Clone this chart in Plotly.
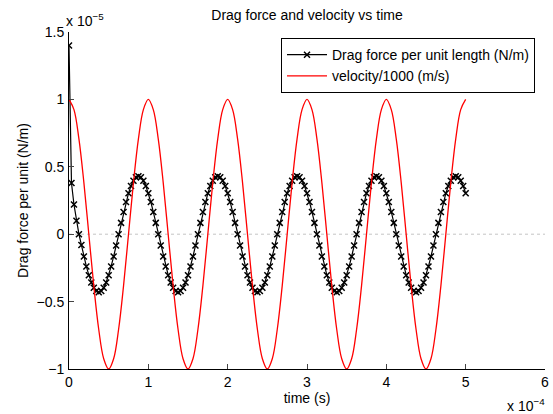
import numpy as np
import plotly.graph_objects as go

# time in units of 1e-4 s; forces / velocities in units of 1e-5
drag_force_e5 = [
    1.40, 0.38, 0.22, 0.10, 0.00, -0.08, -0.165, -0.239, -0.304, -0.358, -0.397, -0.422, -0.43, -0.422, -0.397, -0.358,
    -0.304, -0.239, -0.165, -0.084, 0.0, 0.084, 0.165, 0.239, 0.304, 0.358, 0.397, 0.422, 0.43, 0.422, 0.397, 0.358,
    0.304, 0.239, 0.165, 0.084, 0.0, -0.084, -0.165, -0.239, -0.304, -0.358, -0.397, -0.422, -0.43, -0.422, -0.397, -0.358,
    -0.304, -0.239, -0.165, -0.084, 0.0, 0.084, 0.165, 0.239, 0.304, 0.358, 0.397, 0.422, 0.43, 0.422, 0.397, 0.358,
    0.304, 0.239, 0.165, 0.084, 0.0, -0.084, -0.165, -0.239, -0.304, -0.358, -0.397, -0.422, -0.43, -0.422, -0.397, -0.358,
    -0.304, -0.239, -0.165, -0.084, 0.0, 0.084, 0.165, 0.239, 0.304, 0.358, 0.397, 0.422, 0.43, 0.422, 0.397, 0.358,
    0.304, 0.239, 0.165, 0.084, 0.0, -0.084, -0.165, -0.239, -0.304, -0.358, -0.397, -0.422, -0.43, -0.422, -0.397, -0.358,
    -0.304, -0.239, -0.165, -0.084, 0.0, 0.084, 0.165, 0.239, 0.304, 0.358, 0.397, 0.422, 0.43, 0.422, 0.397, 0.358,
    0.304, 0.239, 0.165, 0.084, 0.0, -0.084, -0.165, -0.239, -0.304, -0.358, -0.397, -0.422, -0.43, -0.422, -0.397, -0.358,
    -0.304, -0.239, -0.165, -0.084, 0.0, 0.084, 0.165, 0.239, 0.304, 0.358, 0.397, 0.422, 0.43, 0.422, 0.397, 0.358,
    0.304,
]
time_drag_e4 = np.linspace(0.0, 5.0, len(drag_force_e5))

velocity_e5 = [
    1.0, 0.924, 0.707, 0.383, 0.0, -0.383, -0.707, -0.924, -1.0, -0.924, -0.707, -0.383, 0.0, 0.383, 0.707, 0.924,
    1.0, 0.924, 0.707, 0.383, 0.0, -0.383, -0.707, -0.924, -1.0, -0.924, -0.707, -0.383, 0.0, 0.383, 0.707, 0.924,
    1.0, 0.924, 0.707, 0.383, 0.0, -0.383, -0.707, -0.924, -1.0, -0.924, -0.707, -0.383, 0.0, 0.383, 0.707, 0.924,
    1.0, 0.924, 0.707, 0.383, 0.0, -0.383, -0.707, -0.924, -1.0, -0.924, -0.707, -0.383, 0.0, 0.383, 0.707, 0.924,
    1.0, 0.924, 0.707, 0.383, 0.0, -0.383, -0.707, -0.924, -1.0, -0.924, -0.707, -0.383, 0.0, 0.383, 0.707, 0.924,
    1.0,
]
time_vel_e4 = np.linspace(0.0, 5.0, len(velocity_e5))

x_ticks = [0, 1, 2, 3, 4, 5, 6]
y_ticks = [-1, -0.5, 0, 0.5, 1, 1.5]
y_tick_labels = ["\u22121", "\u22120.5", "0", "0.5", "1", "1.5"]

FONT = "Liberation Sans, Arial, Helvetica, sans-serif"
FS = 14

fig = go.Figure()
fig.add_trace(go.Scatter(
    x=time_drag_e4, y=drag_force_e5, mode="lines+markers",
    name="Drag force per unit length (N/m)",
    line=dict(color="black", width=1.2),
    marker=dict(symbol="x-thin-open", size=6, color="black", line=dict(color="black", width=1.5)),
))
fig.add_trace(go.Scatter(
    x=time_vel_e4, y=velocity_e5, mode="lines",
    name="velocity/1000 (m/s)",
    line=dict(color="red", width=1.3, shape="spline"),
))

fig.add_shape(type="line", xref="x", yref="y", x0=0, x1=6, y0=0, y1=0,
              line=dict(color="#c4c4c4", width=1, dash="dot"), layer="below")

fig.update_layout(
    width=553, height=414,
    margin=dict(l=69, r=8, t=32, b=45, autoexpand=False),
    paper_bgcolor="white", plot_bgcolor="white",
    font=dict(family=FONT, size=FS, color="black"),
    title=dict(text="Drag force and velocity vs time", x=(69 + 545) / 2 / 553, xanchor="center",
               y=1 - 15 / 414, yanchor="middle", font=dict(size=FS)),
    showlegend=True,
    legend=dict(x=0.979, y=0.982, xanchor="right", yanchor="top",
                bgcolor="white", bordercolor="black", borderwidth=1,
                font=dict(size=FS), tracegroupgap=0, itemwidth=40),
)
fig.update_xaxes(range=[0, 6], tickvals=x_ticks, ticks="inside", ticklen=5, automargin=False,
                 showline=True, linecolor="black", linewidth=1, showgrid=False, zeroline=False,
                 ticklabelstandoff=0,
                 tickfont=dict(size=FS), title=dict(text="time (s)", font=dict(size=FS), standoff=2))
fig.update_yaxes(range=[-1, 1.5], tickvals=y_ticks, ticktext=y_tick_labels, ticks="inside", ticklen=5,
                 automargin=False, ticklabelstandoff=1,
                 showline=True, linecolor="black", linewidth=1, showgrid=False, zeroline=False,
                 tickfont=dict(size=FS), title=dict(text="Drag force per unit (N/m)", font=dict(size=FS), standoff=4))

fig.add_annotation(text="x 10<sup>\u22125</sup>", xref="paper", yref="paper", x=0, y=1,
                   xanchor="left", yanchor="bottom", showarrow=False, font=dict(size=FS), yshift=1, xshift=-5)
fig.add_annotation(text="x 10<sup>\u22124</sup>", xref="paper", yref="paper", x=1, y=0,
                   xanchor="right", yanchor="top", showarrow=False, font=dict(size=FS), yshift=-25, xshift=2)

fig.write_html("out.html", config={"displayModeBar": False},
               post_script="document.body.style.margin='0';document.body.style.overflow='hidden';")
